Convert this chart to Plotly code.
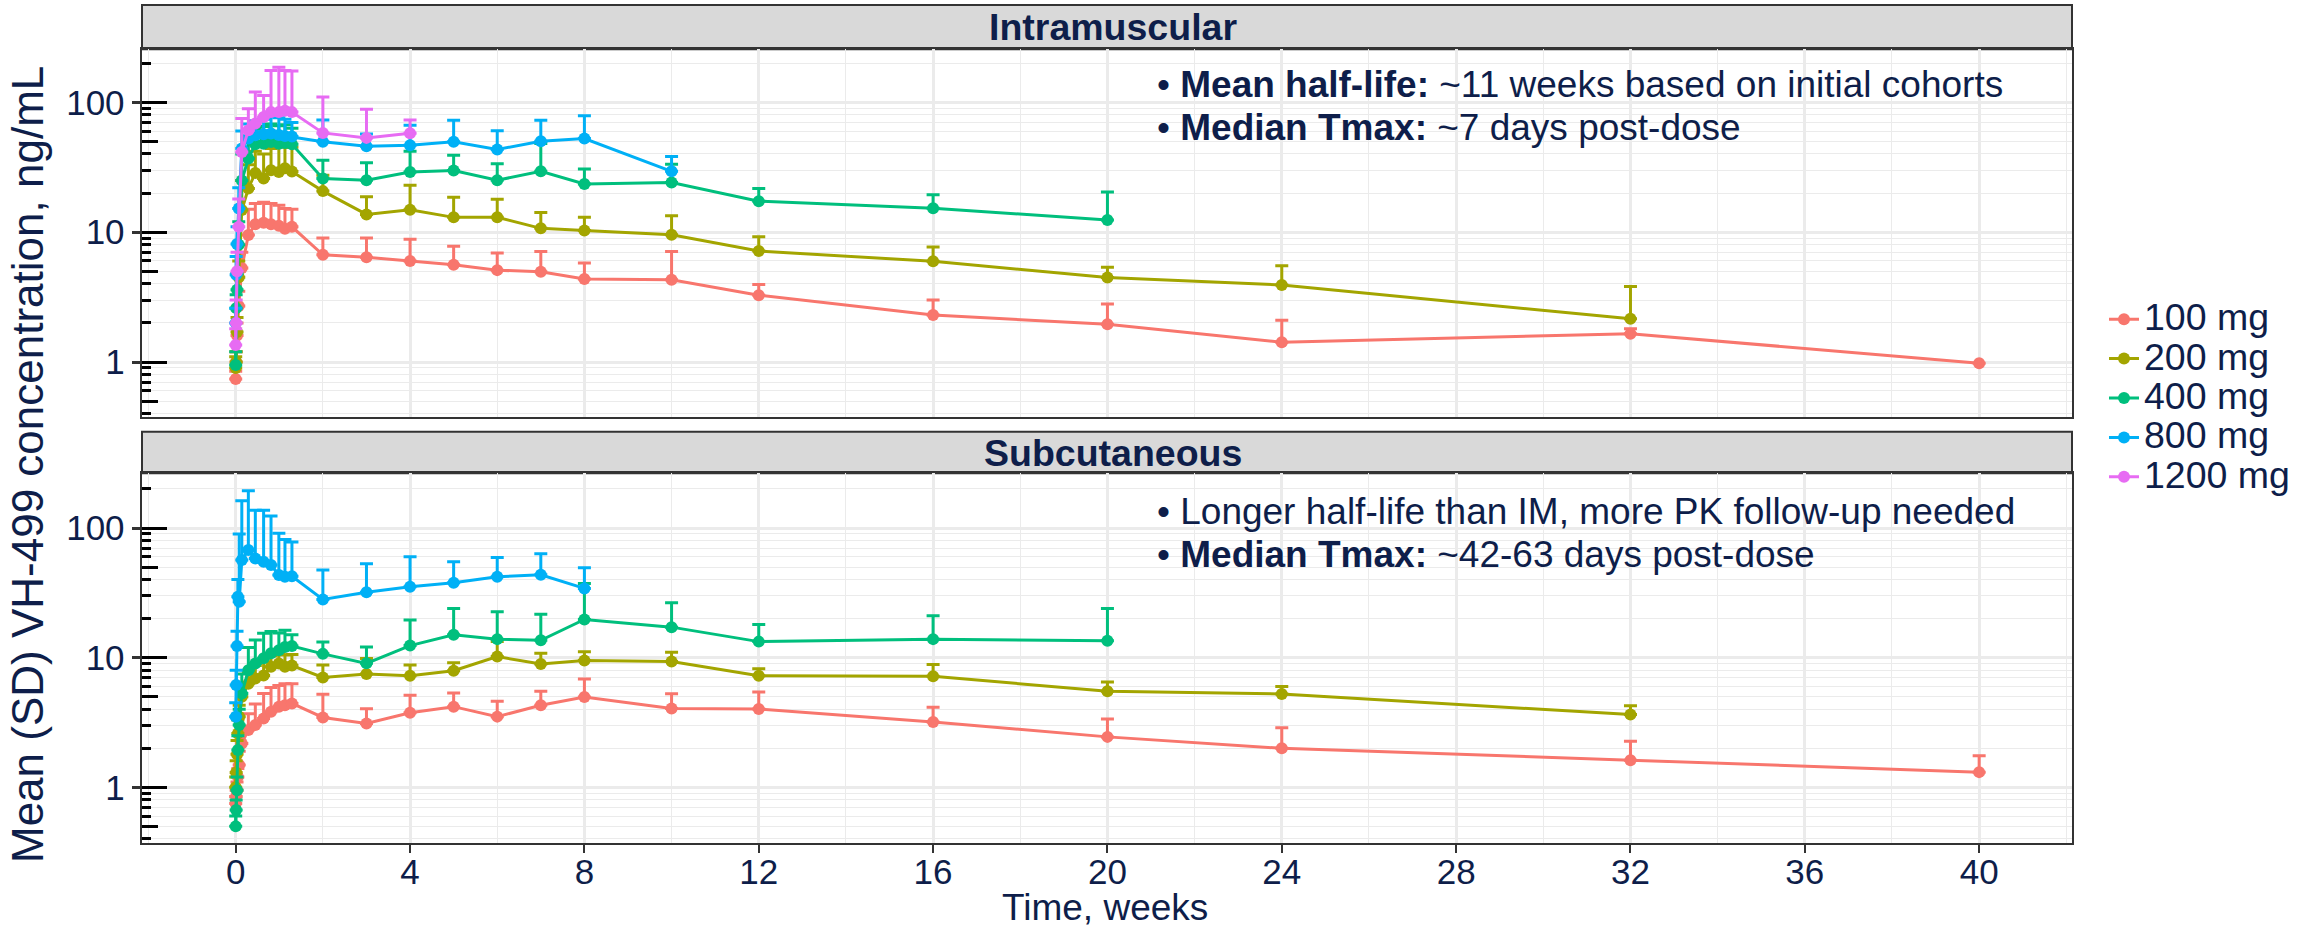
import plotly.graph_objects as go

W, H = 2315, 928
NAVY = "#0E1E4A"
FONT = "Liberation Sans, Arial, Helvetica, sans-serif"
GRID = "#EBEBEB"
BORDER = "#333333"

doses = ["100 mg", "200 mg", "400 mg", "800 mg", "1200 mg"]
colors = ["#F8766D", "#A3A500", "#00BF7D", "#00B0F6", "#E76BF3"]

x_tick_vals = [0, 4, 8, 12, 16, 20, 24, 28, 32, 36, 40]
x_minor_vals = [-2, 2, 6, 10, 14, 18, 22, 26, 30, 34, 38, 42]
y_tick_vals = [1, 10, 100]
y_tick_text = ["1", "10", "100"]
y_mid_vals = [0.5, 5, 50]
y_short_vals = [0.4, 0.6, 0.7, 0.8, 0.9, 2, 3, 4, 6, 7, 8, 9, 20, 30, 40, 60, 70, 80, 90, 200]

# sampling times (weeks)
im_early_weeks = [0, 0.01, 0.03, 0.07, 0.14, 0.29, 0.45, 0.64, 0.81, 0.99, 1.13, 1.29]
sc_early_weeks = [0, 0.01, 0.03, 0.05, 0.08, 0.14, 0.29, 0.45, 0.64, 0.81, 0.99, 1.13, 1.29]
later_weeks = [2, 3, 4, 5, 6, 7, 8, 10, 12, 16, 20, 24, 32, 40]

# Intramuscular: mean and mean+SD (ng/mL)
im_100_mean = [0.74, 1.0, 1.6, 2.7, 5.3, 9.5, 11.5, 11.8, 11.5, 11.2, 10.6, 11.0,
               6.7, 6.4, 6.0, 5.6, 5.1, 4.95, 4.35, 4.3, 3.27, 2.3, 1.95, 1.42, 1.65, 0.98]
im_100_upper = [0.85, 1.2, 2.0, 3.5, 7.0, 15.0, 16.6, 17.0, 16.6, 16.1, 15.2, 15.0,
                9.0, 9.0, 8.8, 7.8, 6.9, 7.1, 5.8, 7.1, 3.96, 3.0, 2.8, 2.1, 1.8, 0.98]
im_200_mean = [0.9, 1.0, 1.7, 4.5, 14.8, 21.7, 28.6, 25.9, 30.0, 29.1, 31.0, 29.3,
               20.7, 13.7, 14.9, 13.0, 13.0, 10.7, 10.3, 9.55, 7.15, 5.96, 4.47, 3.92, 2.15]
im_200_upper = [1.1, 1.2, 2.2, 6.0, 25.0, 33.0, 42.0, 40.0, 44.0, 46.0, 45.0, 45.0,
                27.4, 18.7, 23.0, 18.6, 17.9, 14.2, 13.0, 13.4, 9.2, 7.7, 5.37, 5.5, 3.82]
im_400_mean = [0.95, 2.6, 3.6, 8.0, 25.0, 36.9, 47.5, 48.0, 49.5, 48.0, 48.5, 47.5,
               25.9, 25.1, 29.1, 29.8, 25.1, 29.4, 23.5, 24.1, 17.3, 15.3, 12.4]
im_400_upper = [1.2, 3.3, 4.8, 12.0, 40.0, 55.0, 62.0, 65.0, 68.0, 66.0, 67.0, 63.0,
                35.8, 34.3, 42.0, 39.1, 33.7, 48.1, 30.6, 33.4, 21.7, 19.4, 20.4]
im_800_mean = [2.0, 4.7, 8.1, 15.2, 44.0, 52.6, 55.7, 56.7, 57.4, 56.0, 55.0, 54.5,
               49.6, 45.9, 46.7, 49.6, 43.3, 50.1, 52.6, 29.4]
im_800_upper = [2.6, 6.5, 11.0, 22.0, 60.0, 68.0, 72.0, 74.0, 78.0, 76.0, 74.0, 70.0,
                73.2, 57.1, 66.5, 72.8, 60.5, 72.8, 78.6, 38.2]
im_1200_mean = [1.35, 2.0, 5.0, 11.0, 41.5, 61.0, 68.6, 77.0, 84.0, 84.0, 86.0, 84.0,
                58.1, 53.2, 57.8]
im_1200_upper = [1.8, 3.0, 7.0, 18.0, 75.0, 89.0, 120.0, 113.0, 176.0, 186.0, 176.0, 174.0,
                 110.0, 88.3, 73.1]

# Subcutaneous: mean and mean+SD (ng/mL)
sc_100_mean = [0.75, 0.85, 0.95, 1.2, 1.49, 2.18, 2.77, 3.02, 3.4, 3.83, 4.18, 4.3, 4.44,
               3.46, 3.11, 3.76, 4.19, 3.51, 4.29, 4.97, 4.06, 4.02, 3.19, 2.45, 2.0, 1.62, 1.31]
sc_100_upper = [0.85, 0.95, 1.1, 1.4, 1.9, 2.8, 3.7, 4.4, 5.3, 5.9, 6.1, 6.3, 6.3,
                5.23, 4.04, 5.12, 5.34, 4.62, 5.5, 6.84, 5.27, 5.43, 4.15, 3.37, 2.88, 2.27, 1.75]
sc_200_mean = [1.0, 1.3, 1.8, 2.6, 3.5, 5.0, 6.3, 6.9, 7.3, 8.5, 9.0, 8.5, 8.7,
               7.04, 7.48, 7.26, 7.93, 10.2, 8.93, 9.53, 9.36, 7.26, 7.2, 5.5, 5.25, 3.64]
sc_200_upper = [1.2, 1.6, 2.3, 3.3, 4.3, 6.2, 7.7, 8.7, 9.3, 10.3, 10.8, 10.5, 10.6,
                8.78, 9.87, 8.78, 9.15, 13.3, 10.8, 11.1, 11.0, 8.22, 8.87, 6.5, 6.0, 4.26]
sc_400_mean = [0.5, 0.67, 0.95, 1.94, 3.02, 5.3, 8.0, 9.0, 9.9, 10.8, 11.4, 12.1, 12.3,
               10.7, 9.04, 12.4, 15.0, 13.9, 13.6, 19.7, 17.2, 13.3, 13.9, 13.5]
sc_400_upper = [0.6, 0.8, 1.2, 2.5, 4.0, 7.5, 12.0, 13.7, 15.4, 15.9, 15.5, 16.3, 15.0,
                13.2, 12.1, 19.5, 24.0, 22.6, 21.6, 37.4, 26.5, 18.0, 21.1, 24.0]
sc_800_mean = [3.5, 6.15, 12.3, 29.5, 27.0, 56.6, 67.6, 58.3, 55.0, 51.8, 43.4, 42.1, 42.5,
               28.1, 31.9, 35.2, 37.8, 42.1, 43.6, 34.2]
sc_800_upper = [4.5, 8.0, 16.0, 40.0, 90.0, 162.0, 194.0, 137.0, 137.0, 124.0, 91.0, 81.6, 78.0,
                47.4, 53.0, 60.0, 54.9, 59.3, 63.3, 49.3]

im_series = [im_100_mean, im_200_mean, im_400_mean, im_800_mean, im_1200_mean]
im_uppers = [im_100_upper, im_200_upper, im_400_upper, im_800_upper, im_1200_upper]
sc_series = [sc_100_mean, sc_200_mean, sc_400_mean, sc_800_mean]
sc_uppers = [sc_100_upper, sc_200_upper, sc_400_upper, sc_800_upper]

# ---- layout geometry (pixels) ----
ML, MR, MT, MB = 142, 243, 5, 85
PW, PH = W - ML - MR, H - MT - MB


def fx(px):
    return (px - ML) / PW


def fy(py):
    return (H - MB - py) / PH


TOP_PANEL = (49.3, 416.7)
BOT_PANEL = (473.3, 842.7)
TOP_STRIP = (5, 49.3)
BOT_STRIP = (431.7, 473.3)

fig = go.Figure()


def add_series(weeks_early, means, uppers, names, cols, xa, ya, legend):
    for mean, up, name, col in zip(means, uppers, names, cols):
        n = len(mean)
        weeks = (weeks_early + later_weeks)[:n]
        sd = [u - m for u, m in zip(up, mean)]
        fig.add_trace(go.Scatter(
            x=weeks, y=mean, mode="lines+markers",
            name=f'<span style="font-size:37.5px">{name}</span>',
            line=dict(color=col, width=3),
            marker=dict(color=col, size=12),
            error_y=dict(type="data", symmetric=False, array=sd, arrayminus=[0] * n,
                         color=col, thickness=3, width=6.5),
            xaxis=xa, yaxis=ya, showlegend=legend, legendgroup=name,
            hoverinfo="x+y+name",
        ))


add_series(im_early_weeks, im_series, im_uppers, doses, colors, "x", "y", True)
add_series(sc_early_weeks, sc_series, sc_uppers, doses[:4], colors[:4], "x2", "y2", False)

# dummy traces to activate overlay tick axes (log ticks inside the panels)
for xa, ya in [("x", "y3"), ("x", "y4"), ("x", "y5"), ("x2", "y6"), ("x2", "y7"), ("x2", "y8")]:
    fig.add_trace(go.Scatter(x=[None], y=[None], xaxis=xa, yaxis=ya, showlegend=False, hoverinfo="skip"))

tickfont = dict(family=FONT, size=35, color=NAVY)

xcommon = dict(range=[-2.15, 42.13], tickmode="array", tickvals=x_tick_vals,
               showgrid=True, gridcolor=GRID, gridwidth=2.5, zeroline=False,
               minor=dict(tickmode="array", tickvals=x_minor_vals, showgrid=True, gridcolor=GRID, gridwidth=1.3, ticks=""),
               showline=True, linecolor=BORDER, linewidth=2, mirror=True)

fig.update_layout(
    xaxis=dict(**xcommon, domain=[0, 1], anchor="y", showticklabels=False, ticks=""),
    xaxis2=dict(**xcommon, domain=[0, 1], anchor="y2", showticklabels=True, ticks="outside",
                ticklen=8, tickwidth=2, tickcolor=BORDER, tickfont=tickfont, ticklabelstandoff=-11),
)


def main_y(rng, dom, anchor):
    return dict(type="log", range=rng, domain=dom, anchor=anchor, tickmode="array",
                tickvals=y_tick_vals, ticktext=y_tick_text, ticks="outside", ticklen=8.4,
                tickwidth=2.5, tickcolor=BORDER, tickfont=tickfont,
                showgrid=True, gridcolor=GRID, gridwidth=2.5, zeroline=False,
                minor=dict(tickmode="array", tickvals=y_short_vals + y_mid_vals, showgrid=True,
                           gridcolor=GRID, gridwidth=1.3, ticks=""),
                showline=True, linecolor=BORDER, linewidth=2, mirror=True)


def overlay_y(rng, over, anchor, vals, length):
    return dict(type="log", range=rng, overlaying=over, anchor=anchor, side="left",
                tickmode="array", tickvals=vals, ticks="inside", ticklen=length,
                tickwidth=2.5, tickcolor="black", showticklabels=False, showgrid=False,
                zeroline=False, showline=False)


top_rng = [-0.421, 2.408]
bot_rng = [-0.427, 2.422]
top_dom = [fy(TOP_PANEL[1]), fy(TOP_PANEL[0])]
bot_dom = [max(0, fy(BOT_PANEL[1])), fy(BOT_PANEL[0])]

fig.update_layout(
    yaxis=main_y(top_rng, top_dom, "x"),
    yaxis2=main_y(bot_rng, bot_dom, "x2"),
    yaxis3=overlay_y(top_rng, "y", "x", y_tick_vals, 25),
    yaxis4=overlay_y(top_rng, "y", "x", y_mid_vals, 16),
    yaxis5=overlay_y(top_rng, "y", "x", y_short_vals, 9),
    yaxis6=overlay_y(bot_rng, "y2", "x2", y_tick_vals, 25),
    yaxis7=overlay_y(bot_rng, "y2", "x2", y_mid_vals, 16),
    yaxis8=overlay_y(bot_rng, "y2", "x2", y_short_vals, 9),
)

shapes = []
annotations = []
for (s0, s1), label in [(TOP_STRIP, "Intramuscular"), (BOT_STRIP, "Subcutaneous")]:
    shapes.append(dict(type="rect", xref="paper", yref="paper", x0=0, x1=1, y0=fy(s1), y1=fy(s0),
                       fillcolor="#D9D9D9", line=dict(color=BORDER, width=2), layer="below"))
    annotations.append(dict(text=f"<b>{label}</b>", x=fx(1113), y=fy((s0 + s1) / 2), xref="paper", yref="paper",
                            xanchor="center", yanchor="middle", showarrow=False,
                            font=dict(family=FONT, size=37.5, color=NAVY)))

notes = [
    ("• <b>Mean half-life:</b> ~11 weeks based on initial cohorts", 84),
    ("• <b>Median Tmax:</b> ~7 days post-dose", 127),
    ("• Longer half-life than IM, more PK follow-up needed", 511),
    ("• <b>Median Tmax:</b> ~42-63 days post-dose", 554),
]
for txt, ypx in notes:
    annotations.append(dict(text=txt, x=fx(1155), y=fy(ypx), xref="paper", yref="paper",
                            xanchor="left", yanchor="middle", showarrow=False,
                            font=dict(family=FONT, size=37, color=NAVY)))

annotations.append(dict(text="Time, weeks", x=fx(1105), y=fy(907), xref="paper", yref="paper",
                        xanchor="center", yanchor="middle", showarrow=False,
                        font=dict(family=FONT, size=37, color=NAVY)))
annotations.append(dict(text="Mean (SD) VH-499 concentration, ng/mL", x=fx(27), y=fy(465),
                        xref="paper", yref="paper", xanchor="center", yanchor="middle",
                        textangle=-90, showarrow=False,
                        font=dict(family=FONT, size=44, color=NAVY)))

fig.update_layout(
    width=W, height=H,
    margin=dict(l=ML, r=MR, t=MT, b=MB, pad=0, autoexpand=False),
    paper_bgcolor="white", plot_bgcolor="white",
    shapes=shapes, annotations=annotations,
    showlegend=True,
    legend=dict(x=fx(2104), y=fy(398), xanchor="left", yanchor="middle",
                font=dict(family=FONT, size=28, color=NAVY), bgcolor="rgba(0,0,0,0)",
                borderwidth=0, tracegroupgap=0),
    font=dict(family=FONT, color=NAVY),
)

fig.write_html("out.html", config={"displayModeBar": False},
               post_script="document.body.style.margin='0px';document.body.style.overflow='hidden';")
